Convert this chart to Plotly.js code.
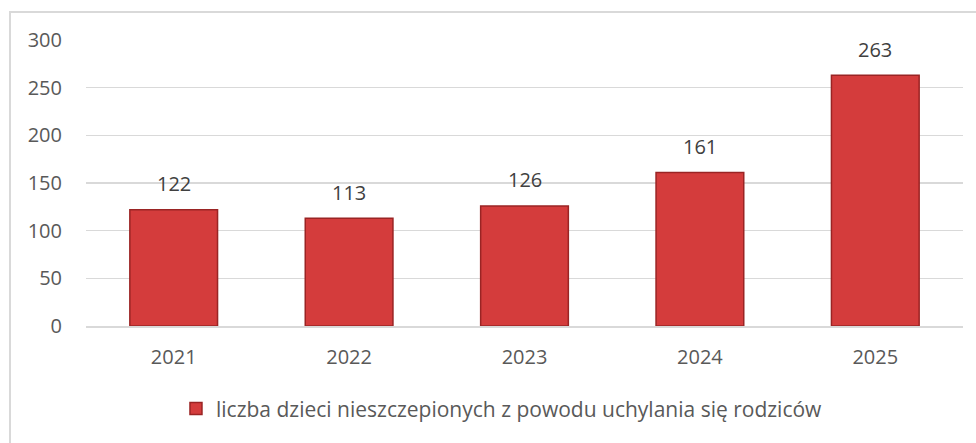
<!DOCTYPE html>
<html><head><meta charset="utf-8">
<script src="https://cdn.plot.ly/plotly-3.0.1.min.js"></script>
<style>
html,body{margin:0;padding:0;background:#fff;overflow:hidden;}
#frame{position:absolute;left:9px;top:11px;width:980px;height:450px;border:2px solid #d9d9d9;box-sizing:border-box;}
#chart{position:absolute;left:0;top:0;width:976px;height:443px;}
</style></head>
<body>
<div id="frame"></div>
<div id="chart"></div>
<script>
const categories = ['2021','2022','2023','2024','2025'];
const values = [122, 113, 126, 161, 263];
const seriesName = 'liczba dzieci nieszczepionych z powodu uchylania się rodziców';
const yTicks = [0, 50, 100, 150, 200, 250, 300];

const font = "Open Sans, Liberation Sans, sans-serif";
const annotations = values.map((v, i) => ({
  x: i, y: v, xref: 'x', yref: 'y',
  text: String(v), showarrow: false,
  yanchor: 'middle', yshift: 26,
  font: {family: font, size: 20, color: '#404040'}
}));

Plotly.newPlot('chart', [{
  type: 'bar',
  x: categories,
  y: values,
  name: seriesName,
  marker: {color: '#d43c3c', line: {color: '#9a2424', width: 1.5}},
  width: 0.5,
  showlegend: true
}], {
  width: 976, height: 443,
  paper_bgcolor: 'rgba(0,0,0,0)', plot_bgcolor: 'rgba(0,0,0,0)',
  margin: {l: 86, r: 13, t: 40, b: 117},
  font: {family: font, size: 20, color: '#595959'},
  xaxis: {type: 'category', showgrid: false, showline: true, linecolor: '#d9d9d9', linewidth: 1.5, ticks: '', ticklabelstandoff: 12, tickfont: {size: 20, color: '#595959'}},
  yaxis: {range: [0, 300], tickvals: yTicks, showgrid: true, gridcolor: '#d9d9d9', gridwidth: 1.5, zeroline: false, showline: false, ticks: '', ticklabelstandoff: 23, tickfont: {size: 20, color: '#595959'}},
  showlegend: true,
  legend: {orientation: 'h', x: 0.1026, xanchor: 'left', y: -0.29, yanchor: 'middle', font: {size: 21, color: '#595959'}, itemwidth: 30},
  annotations: annotations,
  bargap: 0.5
}, {displayModeBar: false, staticPlot: true});
</script>
</body></html>
